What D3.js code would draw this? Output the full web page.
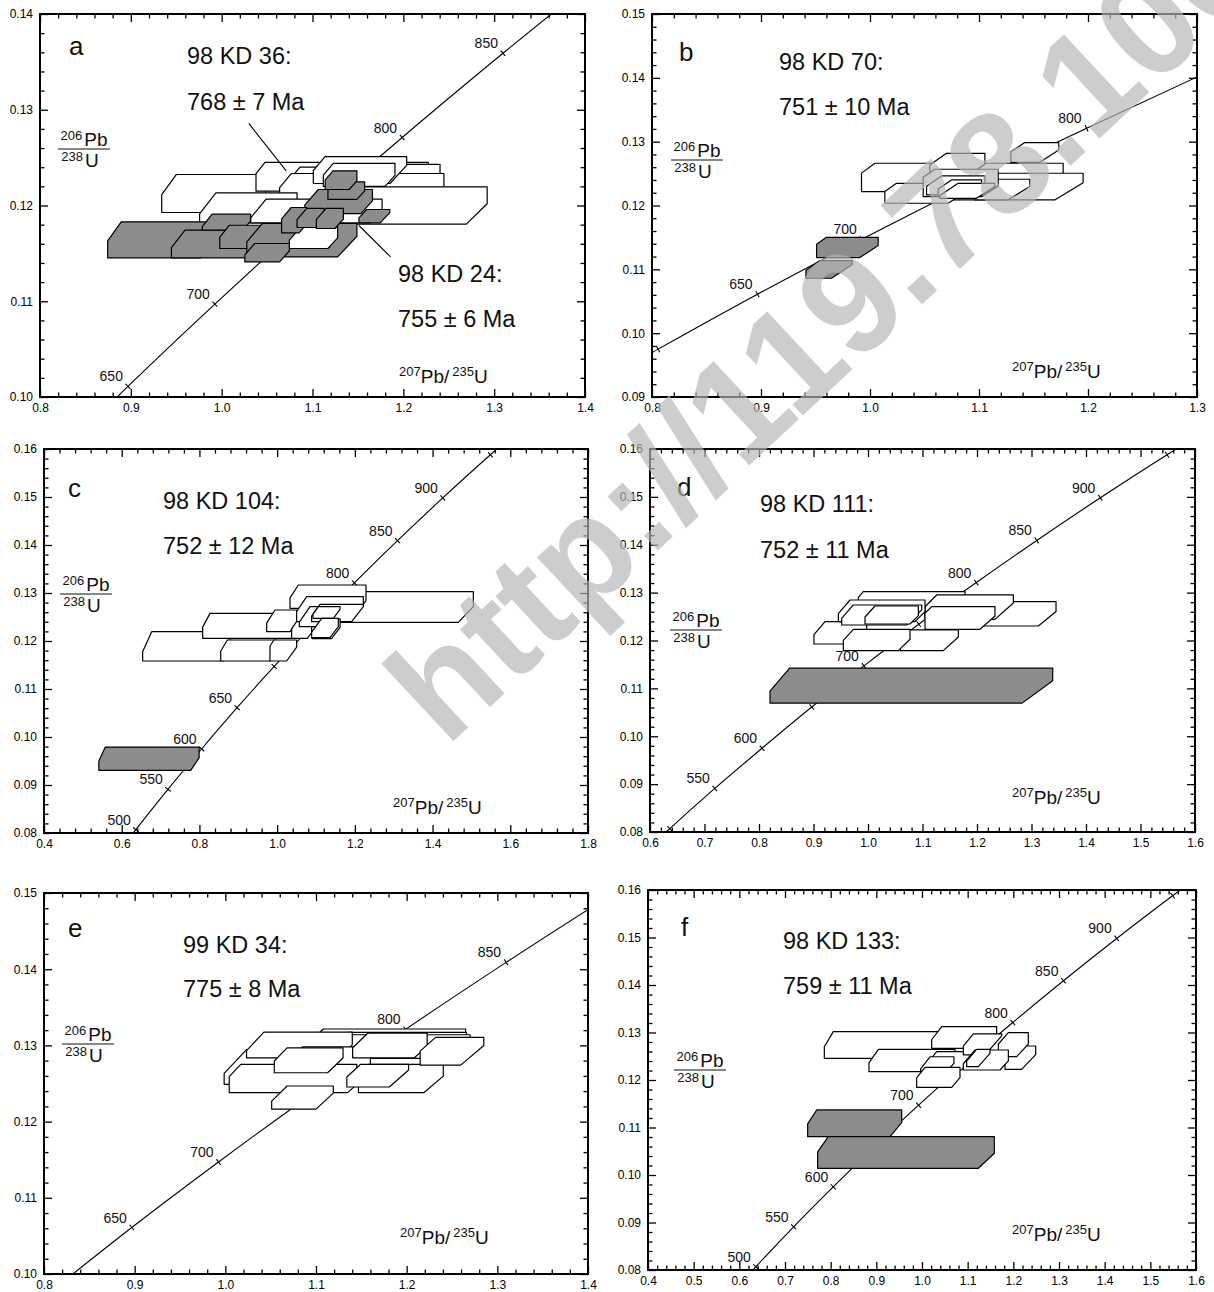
<!DOCTYPE html>
<html>
<head>
<meta charset="utf-8">
<script src="https://cdn.jsdelivr.net/npm/d3@7"></script>
<style>
  body { margin: 0; background: #fff; }
  svg { display: block; }
</style>
</head>
<body>
<svg id="chart" width="1214" height="1292"></svg>
<script>
const FONT = '"Liberation Sans", Arial, Helvetica, sans-serif';

// ---- Concordia reference points: [age (Ma), 207Pb/235U, 206Pb/238U] ----
const concordiaA = [
  [600, 0.8056, 0.0925], [650, 0.8968, 0.1011], [700, 0.9925, 0.1097],
  [750, 1.0931, 0.1184], [800, 1.1987, 0.1271], [850, 1.3097, 0.1359],
  [900, 1.4263, 0.1448]
];
const concordiaStd = [
  [450, 0.5577, 0.0723], [500, 0.6363, 0.0807], [550, 0.7189, 0.0891],
  [600, 0.8056, 0.0975], [650, 0.8968, 0.1061], [700, 0.9925, 0.1147],
  [750, 1.0931, 0.1234], [800, 1.1987, 0.1321], [850, 1.3097, 0.1409],
  [900, 1.4263, 0.1498], [950, 1.5488, 0.1588], [1000, 1.6774, 0.1678]
];

// ---- Ages written beside the concordia ----
const agesA = [650, 700, 800, 850];
const agesB = [650, 700, 800];
const agesC = [500, 550, 600, 650, 800, 850, 900];
const agesD = [550, 600, 700, 800, 850, 900];
const agesE = [650, 700, 800, 850];
const agesF = [500, 550, 600, 700, 800, 850, 900];

// ---- Axis tick labels ----
const xTicksA = [0.8, 0.9, 1.0, 1.1, 1.2, 1.3, 1.4];
const yTicksA = [0.10, 0.11, 0.12, 0.13, 0.14];
const xTicksB = [0.8, 0.9, 1.0, 1.1, 1.2, 1.3];
const yTicksB = [0.09, 0.10, 0.11, 0.12, 0.13, 0.14, 0.15];
const xTicksC = [0.4, 0.6, 0.8, 1.0, 1.2, 1.4, 1.6, 1.8];
const yTicksC = [0.08, 0.09, 0.10, 0.11, 0.12, 0.13, 0.14, 0.15, 0.16];
const xTicksD = [0.6, 0.7, 0.8, 0.9, 1.0, 1.1, 1.2, 1.3, 1.4, 1.5, 1.6];
const yTicksD = [0.08, 0.09, 0.10, 0.11, 0.12, 0.13, 0.14, 0.15, 0.16];
const xTicksE = [0.8, 0.9, 1.0, 1.1, 1.2, 1.3, 1.4];
const yTicksE = [0.10, 0.11, 0.12, 0.13, 0.14, 0.15];
const xTicksF = [0.4, 0.5, 0.6, 0.7, 0.8, 0.9, 1.0, 1.1, 1.2, 1.3, 1.4, 1.5, 1.6];
const yTicksF = [0.08, 0.09, 0.10, 0.11, 0.12, 0.13, 0.14, 0.15, 0.16];

// ---- Sample captions ----
const captionA = ["98 KD 36:", "768 ± 7 Ma", "98 KD 24:", "755 ± 6 Ma"];
const captionB = ["98 KD 70:", "751 ± 10 Ma"];
const captionC = ["98 KD 104:", "752 ± 12 Ma"];
const captionD = ["98 KD 111:", "752 ± 11 Ma"];
const captionE = ["99 KD 34:", "775 ± 8 Ma"];
const captionF = ["98 KD 133:", "759 ± 11 Ma"];

// ---- Zircon analyses (error boxes) ----
// [x min, x max, y min, y max, x where top edge starts, x where bottom edge ends, shaded]
// The two cut corners follow constant 207Pb/206Pb lines through the origin.
const boxesA = [
  [0.9340, 1.0489, 0.11927, 0.12324, 0.9502, 1.0362, 0],
  [1.0378, 1.2275, 0.1215, 0.1245, 1.0477, 1.2150, 0],
  [1.0789, 1.1500, 0.1200, 0.1240, 1.0862, 1.1400, 0],
  [1.1000, 1.2404, 0.1212, 0.1243, 1.1100, 1.2250, 0],
  [1.1200, 1.2440, 0.1200, 0.1225, 1.1300, 1.2300, 0],
  [1.0638, 1.2447, 0.11986, 0.12334, 1.0766, 1.2319, 0],
  [1.1340, 1.2923, 0.11805, 0.12195, 1.1468, 1.2694, 0],
  [1.1009, 1.2037, 0.1223, 0.1251, 1.1138, 1.1853, 0],
  [1.1119, 1.1908, 0.1220, 0.1244, 1.1229, 1.1798, 0],
  [0.9757, 1.0830, 0.11819, 0.12132, 0.9936, 1.0702, 0],
  [1.0319, 1.1766, 0.11819, 0.12066, 1.0489, 1.1638, 0],
  [0.8745, 0.9894, 0.11453, 0.11829, 0.8894, 0.9766, 1],
  [0.9447, 1.0489, 0.11453, 0.11742, 0.9596, 1.0362, 1],
  [0.9787, 1.0319, 0.11742, 0.11909, 0.9894, 1.0234, 1],
  [0.9979, 1.0787, 0.11551, 0.11794, 1.0085, 1.0681, 1],
  [1.0277, 1.1489, 0.11463, 0.11812, 1.0447, 1.1277, 1],
  [1.0745, 1.1277, 0.11551, 0.11777, 1.0872, 1.1170, 0],
  [1.0255, 1.0745, 0.11411, 0.11603, 1.0362, 1.0638, 1],
  [1.0915, 1.1660, 0.11916, 0.12167, 1.1064, 1.1532, 1],
  [1.1511, 1.1851, 0.11819, 0.11958, 1.1596, 1.1745, 1],
  [1.0660, 1.0936, 0.11714, 0.11979, 1.0766, 1.0851, 1],
  [1.0830, 1.1128, 0.11770, 0.11969, 1.0936, 1.1043, 1],
  [1.1043, 1.1340, 0.11760, 0.11969, 1.1149, 1.1247, 1],
  [1.1170, 1.1574, 0.12063, 0.12247, 1.1255, 1.1489, 1],
  [1.1140, 1.1489, 0.12167, 0.12362, 1.1226, 1.1404, 1]
];
const boxesB = [
  [0.9922, 1.1772, 0.12218, 0.12662, 1.0045, 1.1634, 0],
  [1.0549, 1.1054, 0.12505, 0.12818, 1.0702, 1.0931, 0],
  [1.1292, 1.1732, 0.12677, 0.12986, 1.1420, 1.1558, 0],
  [1.0656, 1.1955, 0.12087, 0.12505, 1.0778, 1.1695, 0],
  [1.0136, 1.0840, 0.12035, 0.12348, 1.0243, 1.0717, 0],
  [1.0962, 1.1466, 0.12087, 0.12411, 1.1069, 1.1268, 0],
  [1.0488, 1.1176, 0.12139, 0.12568, 1.0595, 1.1023, 0],
  [1.0519, 1.1054, 0.12166, 0.12463, 1.0656, 1.0931, 0],
  [1.0625, 1.1023, 0.12139, 0.12401, 1.0748, 1.0885, 0],
  [1.0641, 1.1145, 0.12113, 0.12348, 1.0809, 1.0977, 0],
  [0.9510, 1.0075, 0.11184, 0.11502, 0.9601, 0.9907, 1],
  [0.9412, 0.9837, 0.10860, 0.11137, 0.9540, 0.9647, 1]
];
const boxesC = [
  [0.6539, 0.8787, 0.11583, 0.12194, 0.6771, 0.8615, 0],
  [0.8547, 0.9988, 0.11583, 0.12021, 0.8718, 0.9816, 0],
  [0.9816, 1.0502, 0.11583, 0.12021, 0.9919, 1.0245, 0],
  [0.8083, 1.0674, 0.12056, 0.12576, 0.8272, 1.0417, 0],
  [0.9730, 1.0502, 0.12194, 0.12646, 0.9945, 1.0331, 0],
  [1.1017, 1.5049, 0.12389, 0.13028, 1.1274, 1.4663, 0],
  [1.0331, 1.2287, 0.12681, 0.13167, 1.0545, 1.2132, 0],
  [1.0502, 1.2218, 0.12403, 0.12924, 1.0760, 1.1875, 0],
  [1.0374, 1.0888, 0.12056, 0.12403, 1.0500, 1.0780, 0],
  [1.0571, 1.1618, 0.12299, 0.12715, 1.0846, 1.1360, 0],
  [1.0888, 1.2218, 0.12403, 0.12764, 1.1103, 1.1918, 0],
  [1.0922, 1.1618, 0.12472, 0.12715, 1.1060, 1.1446, 0],
  [1.0900, 1.1620, 0.12050, 0.12460, 1.1160, 1.1400, 0],
  [1.0888, 1.1575, 0.12069, 0.12472, 1.1146, 1.1360, 0],
  [0.5410, 0.7992, 0.09305, 0.09790, 0.5577, 0.7775, 1]
];
const boxesD = [
  [0.9009, 0.9976, 0.11927, 0.12394, 0.9211, 0.9792, 0],
  [1.2055, 1.3450, 0.12303, 0.12811, 1.2178, 1.3126, 0],
  [0.9823, 1.1780, 0.12707, 0.13020, 0.9914, 1.1627, 0],
  [1.1046, 1.2667, 0.12442, 0.12951, 1.1260, 1.2330, 0],
  [1.1046, 1.2330, 0.12234, 0.12707, 1.1168, 1.2055, 0],
  [1.0587, 1.1658, 0.11788, 0.12220, 1.0710, 1.1382, 0],
  [0.9456, 1.1046, 0.12394, 0.12846, 0.9670, 1.0862, 0],
  [0.9517, 1.0985, 0.12324, 0.12742, 0.9731, 1.0710, 0],
  [0.9945, 1.0924, 0.12345, 0.12721, 1.0128, 1.0771, 0],
  [0.9547, 1.0771, 0.11788, 0.12234, 0.9731, 1.0557, 0],
  [0.8202, 1.3389, 0.10692, 0.11421, 0.8561, 1.2829, 1]
];
const boxesE = [
  [1.0900, 1.2650, 0.12900, 0.13215, 1.1080, 1.2450, 0],
  [1.1200, 1.2660, 0.12850, 0.13170, 1.1350, 1.2480, 0],
  [1.1250, 1.2700, 0.12830, 0.13140, 1.1400, 1.2520, 0],
  [0.9987, 1.1000, 0.12489, 0.12945, 1.0234, 1.0850, 0],
  [1.0234, 1.1400, 0.12836, 0.13175, 1.0426, 1.1250, 0],
  [1.0750, 1.1600, 0.12620, 0.12980, 1.0850, 1.1500, 0],
  [1.0043, 1.1450, 0.12380, 0.12750, 1.0170, 1.1350, 0],
  [1.1468, 1.2404, 0.12381, 0.12750, 1.1574, 1.2192, 0],
  [1.0540, 1.1298, 0.12641, 0.12967, 1.0681, 1.1128, 0],
  [1.1404, 1.2226, 0.12837, 0.13162, 1.1574, 1.2085, 0],
  [1.2149, 1.2851, 0.12741, 0.13106, 1.2319, 1.2596, 0],
  [1.1340, 1.2021, 0.12454, 0.12750, 1.1489, 1.1809, 0],
  [1.0511, 1.1191, 0.12163, 0.12467, 1.0681, 1.1000, 0]
];
const boxesF = [
  [0.7861, 1.1599, 0.12456, 0.13018, 0.8058, 1.1307, 0],
  [0.8839, 1.0723, 0.12176, 0.12646, 0.9044, 1.0431, 0],
  [1.1818, 1.2489, 0.12225, 0.12716, 1.2110, 1.2182, 0],
  [1.1672, 1.2328, 0.12492, 0.12997, 1.1891, 1.2073, 0],
  [1.0212, 1.1635, 0.12667, 0.13123, 1.0431, 1.1380, 0],
  [1.0124, 1.1161, 0.12211, 0.12597, 1.0321, 1.0869, 0],
  [0.9970, 1.0700, 0.12180, 0.12490, 1.0180, 1.0550, 0],
  [1.0905, 1.1745, 0.12527, 0.12969, 1.1124, 1.1380, 0],
  [1.0905, 1.1891, 0.12211, 0.12632, 1.1161, 1.1708, 0],
  [0.9883, 1.0832, 0.11846, 0.12267, 1.0066, 1.0650, 0],
  [1.0978, 1.1489, 0.12281, 0.12646, 1.1197, 1.1234, 0],
  [0.7496, 0.9555, 0.10807, 0.11369, 0.7693, 0.9299, 1],
  [0.7715, 1.1584, 0.10141, 0.10807, 0.7949, 1.1234, 1]
];

// Leader lines from the panel-a captions to their data clusters: [x0, y0, x1, y1]
const leadersA = [
  [1.0298, 0.12857, 1.0711, 0.12362],
  [1.1860, 0.11463, 1.1511, 0.11791]
];

const watermark = "http://119.78.100";

// ---- Panel layout ----
const panels = [
  { id: "a", frame: [40, 14, 585, 397], xDom: [0.8, 1.4], yDom: [0.10, 0.14],
    xTicks: xTicksA, yTicks: yTicksA, xMinor: 0.02, yMinor: 0.002,
    curve: concordiaA, ages: agesA, boxes: boxesA, caption: captionA, leaders: leadersA,
    letterPos: [69, 55], capPos: [[187, 63.5], [187, 110], [398, 282], [398, 327]],
    fracPos: [84, 149], xLabPos: [399, 383] },
  { id: "b", frame: [652, 14, 1197, 397], xDom: [0.8, 1.3], yDom: [0.09, 0.15],
    xTicks: xTicksB, yTicks: yTicksB, xMinor: 0.02, yMinor: 0.002,
    curve: concordiaStd, ages: agesB, boxes: boxesB, caption: captionB,
    letterPos: [679, 61], capPos: [[779, 69.5], [779, 114.5]],
    fracPos: [697, 160], xLabPos: [1012, 378] },
  { id: "c", frame: [44, 449, 588, 833], xDom: [0.4, 1.8], yDom: [0.08, 0.16],
    xTicks: xTicksC, yTicks: yTicksC, xMinor: 0.04, yMinor: 0.002,
    curve: concordiaStd, ages: agesC, boxes: boxesC, caption: captionC,
    letterPos: [68, 497], capPos: [[163, 508.5], [163, 554]],
    fracPos: [86, 594], xLabPos: [393, 814] },
  { id: "d", frame: [650, 449, 1195, 832], xDom: [0.6, 1.6], yDom: [0.08, 0.16],
    xTicks: xTicksD, yTicks: yTicksD, xMinor: 0.02, yMinor: 0.002,
    curve: concordiaStd, ages: agesD, boxes: boxesD, caption: captionD,
    letterPos: [677, 496], capPos: [[760, 511.5], [760, 558]],
    fracPos: [696, 630], xLabPos: [1012, 804] },
  { id: "e", frame: [44, 893, 588, 1274], xDom: [0.8, 1.4], yDom: [0.10, 0.15],
    xTicks: xTicksE, yTicks: yTicksE, xMinor: 0.02, yMinor: 0.002,
    curve: concordiaStd, ages: agesE, boxes: boxesE, caption: captionE,
    letterPos: [68, 937], capPos: [[183, 953], [183, 996.5]],
    fracPos: [88, 1044], xLabPos: [400, 1244] },
  { id: "f", frame: [648, 890, 1196, 1270], xDom: [0.4, 1.6], yDom: [0.08, 0.16],
    xTicks: xTicksF, yTicks: yTicksF, xMinor: 0.02, yMinor: 0.002,
    curve: concordiaStd, ages: agesF, boxes: boxesF, caption: captionF,
    letterPos: [681, 936], capPos: [[783, 949], [783, 994]],
    fracPos: [700, 1070], xLabPos: [1012, 1241] }
];

const svg = d3.select("#chart").attr("font-family", FONT);
const defs = svg.append("defs");

// Clip a polygon to the half-plane f(p) >= 0 (Sutherland–Hodgman step)
function clipPoly(poly, f) {
  const out = [];
  for (let i = 0; i < poly.length; i++) {
    const a = poly[i], b = poly[(i + 1) % poly.length];
    const fa = f(a), fb = f(b);
    if (fa >= 0) out.push(a);
    if ((fa >= 0) !== (fb >= 0)) {
      const t = fa / (fa - fb);
      out.push([a[0] + (b[0] - a[0]) * t, a[1] + (b[1] - a[1]) * t]);
    }
  }
  return out;
}
function boxShape(b) {
  const [x1, x2, y1, y2, xt, xb] = b;
  let poly = [[x1, y1], [x2, y1], [x2, y2], [x1, y2]];
  const sHi = y2 / xt, sLo = y1 / xb;
  poly = clipPoly(poly, p => sHi * p[0] - p[1]);
  poly = clipPoly(poly, p => p[1] - sLo * p[0]);
  return poly;
}
function steps(dom, step) {
  const n = Math.round((dom[1] - dom[0]) / step);
  return d3.range(n + 1).map(i => +(dom[0] + i * step).toFixed(5));
}

function drawPanel(p) {
  const [L, T, R, B] = p.frame;
  const x = d3.scaleLinear().domain(p.xDom).range([L, R]);
  const y = d3.scaleLinear().domain(p.yDom).range([B, T]);
  const g = svg.append("g").attr("class", "panel-" + p.id);

  const cid = "clip-" + p.id;
  defs.append("clipPath").attr("id", cid)
    .append("rect").attr("x", L).attr("y", T).attr("width", R - L).attr("height", B - T);

  // axes: major/minor ticks on all four sides, pointing inward
  const isMajorX = v => p.xTicks.some(t => Math.abs(t - v) < 1e-6);
  const isMajorY = v => p.yTicks.some(t => Math.abs(t - v) < 1e-6);
  const xMin = steps(p.xDom, p.xMinor).filter(v => !isMajorX(v));
  const yMin = steps(p.yDom, p.yMinor).filter(v => !isMajorY(v));
  const fx = d3.format(".1f");
  const fy = d3.format(".2f");

  const axes = g.append("g").attr("class", "axes");
  const addAxis = (axis, tr) => {
    const a = axes.append("g").attr("transform", tr).call(axis);
    a.select(".domain").remove();
    a.selectAll("line").attr("stroke", "#000").attr("stroke-width", 1.3);
    a.attr("font-family", FONT).attr("font-size", 12);
    a.selectAll("text").attr("fill", "#000");
    return a;
  };
  addAxis(d3.axisBottom(x).tickValues(p.xTicks).tickSize(-8).tickPadding(6).tickFormat(fx), `translate(0,${B})`);
  addAxis(d3.axisBottom(x).tickValues(xMin).tickSize(-4.5).tickFormat(""), `translate(0,${B})`);
  addAxis(d3.axisTop(x).tickValues(p.xTicks).tickSize(-8).tickFormat(""), `translate(0,${T})`);
  addAxis(d3.axisTop(x).tickValues(xMin).tickSize(-4.5).tickFormat(""), `translate(0,${T})`);
  addAxis(d3.axisLeft(y).tickValues(p.yTicks).tickSize(-8).tickPadding(7).tickFormat(fy), `translate(${L},0)`);
  addAxis(d3.axisLeft(y).tickValues(yMin).tickSize(-4.5).tickFormat(""), `translate(${L},0)`);
  addAxis(d3.axisRight(y).tickValues(p.yTicks).tickSize(-8).tickFormat(""), `translate(${R},0)`);
  addAxis(d3.axisRight(y).tickValues(yMin).tickSize(-4.5).tickFormat(""), `translate(${R},0)`);

  // concordia curve
  const line = d3.line().x(d => x(d[1])).y(d => y(d[2])).curve(d3.curveMonotoneX);
  const cg = g.append("g").attr("clip-path", `url(#${cid})`);
  cg.append("path").attr("d", line(p.curve))
    .attr("fill", "none").attr("stroke", "#000").attr("stroke-width", 1.1);

  // age ticks and labels along the concordia
  const pts = p.curve.map(d => [x(d[1]), y(d[2])]);
  p.curve.forEach((d, i) => {
    if (i === 0 || i === p.curve.length - 1) return;
    const [px, py] = pts[i];
    if (px < L || px > R || py < T || py > B) return;
    const dx = pts[i + 1][0] - pts[i - 1][0], dy = pts[i + 1][1] - pts[i - 1][1];
    const len = Math.hypot(dx, dy);
    const nx = -dy / len, ny = dx / len;
    cg.append("line")
      .attr("x1", px - nx * 3.5).attr("y1", py - ny * 3.5)
      .attr("x2", px + nx * 3.5).attr("y2", py + ny * 3.5)
      .attr("stroke", "#000").attr("stroke-width", 1.1);
    if (p.ages.includes(d[0])) {
      g.append("text").attr("x", px - 5).attr("y", py - 5)
        .attr("text-anchor", "end").attr("font-size", 14).attr("fill", "#111")
        .text(d[0]);
    }
  });

  // error boxes, drawn in order so later analyses overlap earlier ones
  const polyPath = d3.line().x(d => x(d[0])).y(d => y(d[1]));
  g.append("g").attr("class", "boxes").selectAll("path")
    .data(p.boxes).join("path")
    .attr("d", b => polyPath(boxShape(b)) + "Z")
    .attr("fill", b => b[6] ? "#8c8c8c" : "#fff")
    .attr("stroke", "#000").attr("stroke-width", 1.2)
    .attr("stroke-linejoin", "round");

  // caption leader lines
  if (p.leaders) {
    g.selectAll("line.leader").data(p.leaders).join("line").attr("class", "leader")
      .attr("x1", d => x(d[0])).attr("y1", d => y(d[1]))
      .attr("x2", d => x(d[2])).attr("y2", d => y(d[3]))
      .attr("stroke", "#000").attr("stroke-width", 1.1);
  }

  // frame
  g.append("rect").attr("x", L).attr("y", T).attr("width", R - L).attr("height", B - T)
    .attr("fill", "none").attr("stroke", "#000").attr("stroke-width", 2);

  // panel letter and captions
  g.append("text").attr("x", p.letterPos[0]).attr("y", p.letterPos[1])
    .attr("font-size", 26).attr("fill", "#111").text(p.id);
  p.caption.forEach((t, i) => {
    g.append("text").attr("x", p.capPos[i][0]).attr("y", p.capPos[i][1])
      .attr("font-size", 23.5).attr("fill", "#111").text(t);
  });

  // y-axis title: 206Pb / 238U as a fraction
  const [cx, ly] = p.fracPos;
  const num = g.append("text").attr("x", cx).attr("y", ly - 3)
    .attr("text-anchor", "middle").attr("fill", "#111");
  num.append("tspan").attr("font-size", 13).attr("dy", -6).text("206");
  num.append("tspan").attr("font-size", 19).attr("dy", 6).attr("dx", 2).text("Pb");
  g.append("line").attr("x1", cx - 26).attr("x2", cx + 26).attr("y1", ly).attr("y2", ly)
    .attr("stroke", "#111").attr("stroke-width", 1.2);
  const den = g.append("text").attr("x", cx - 4).attr("y", ly + 18)
    .attr("text-anchor", "middle").attr("fill", "#111");
  den.append("tspan").attr("font-size", 13).attr("dy", -6).text("238");
  den.append("tspan").attr("font-size", 19).attr("dy", 6).attr("dx", 2).text("U");

  // x-axis title: 207Pb/235U
  const xl = g.append("text").attr("x", p.xLabPos[0]).attr("y", p.xLabPos[1]).attr("fill", "#111");
  xl.append("tspan").attr("font-size", 13).attr("dy", -7).text("207");
  xl.append("tspan").attr("font-size", 19).attr("dy", 7).text("Pb/");
  xl.append("tspan").attr("font-size", 13).attr("dy", -7).attr("dx", 3).text("235");
  xl.append("tspan").attr("font-size", 19).attr("dy", 7).text("U");
}

panels.forEach(drawPanel);

// translucent address stamp across the figure
svg.append("text")
  .attr("transform", "translate(446,748) rotate(-43)")
  .attr("font-size", 146).attr("font-weight", "bold")
  .attr("fill", "rgb(182,182,182)").attr("fill-opacity", 0.68)
  .text(watermark);
</script>
</body>
</html>
